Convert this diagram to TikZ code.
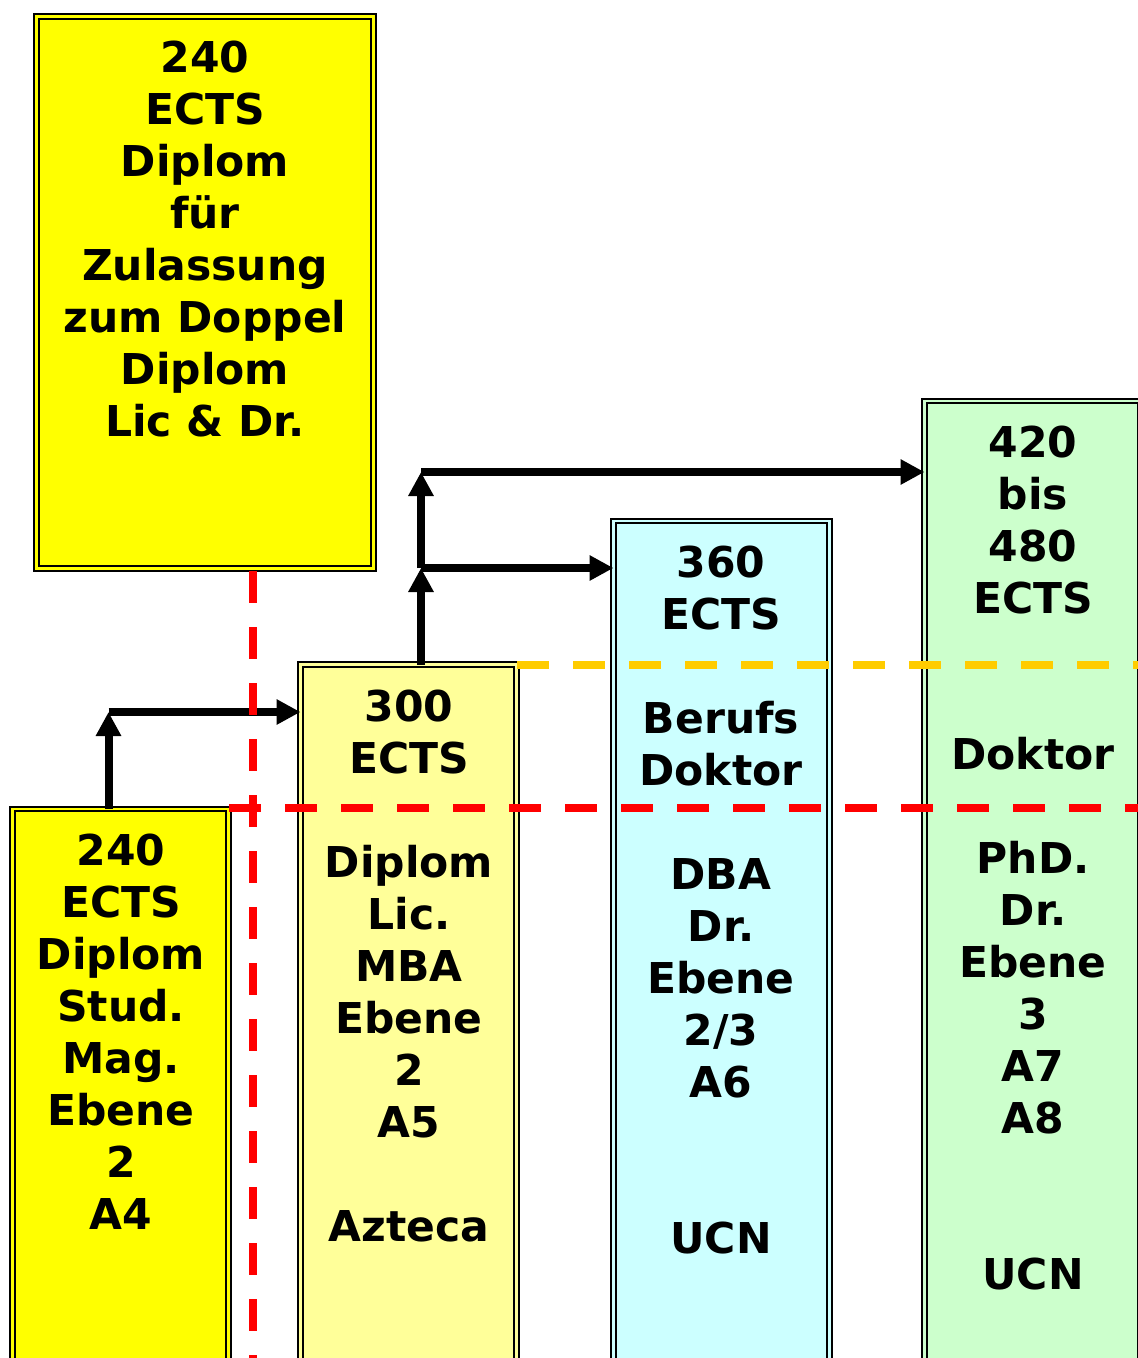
\documentclass[tikz,border=0pt]{standalone}
\usepackage{fontspec}
\setmainfont{DejaVu Sans}
\usetikzlibrary{arrows.meta}
\definecolor{cyel}{HTML}{FFFF00}
\definecolor{clyel}{HTML}{FFFF99}
\definecolor{ccyan}{HTML}{CCFFFF}
\definecolor{cgreen}{HTML}{CCFFCC}
\definecolor{cred}{HTML}{FF0000}
\definecolor{corange}{HTML}{FFCC00}
\begin{document}
\begin{tikzpicture}[x=1pt,y=-1pt,
  boxstyle/.style={draw=black, line width=2.2pt, double distance=2.3pt, inner sep=0pt, outer sep=0pt, anchor=north west, minimum width=216pt},
  label/.style={align=center, anchor=base, inner sep=0pt, font=\fontsize{42.5}{52}\selectfont\bfseries},
  arr/.style={line width=8pt, -{Triangle[length=24pt,width=24pt]}},
  reddash/.style={draw=cred, line width=8pt, dash pattern=on 32pt off 24pt},
  orangedash/.style={draw=corange, line width=8pt, dash pattern=on 32pt off 24pt}]
\useasboundingbox (0,0) rectangle (1138,1358);
\fill[white] (0,0) rectangle (1138,1358);
\clip (0,0) rectangle (1138,1358);
% boxes
\node[boxstyle, fill=cyel, double=cyel, minimum width=337pt, minimum height=552pt] (btop) at (36.5,16.5) {};
\node[boxstyle, fill=cyel, double=cyel, minimum height=620pt] (bl) at (12.5,809) {};
\node[boxstyle, fill=clyel, double=clyel, minimum height=760pt] (b300) at (300.5,664.5) {};
\node[boxstyle, fill=ccyan, double=ccyan, minimum height=900pt] (b360) at (613.5,521) {};
\node[boxstyle, fill=cgreen, double=cgreen, minimum height=1020pt] (b420) at (924.5,401) {};
% texts (base anchor = baseline of the last line)
\node[label] (ttop) at (205,436.5) {240\\ECTS\\Diplom\\für\\Zulassung\\zum Doppel\\Diplom\\Lic \& Dr.};
\node[label] (tbl) at (121,1229.5) {240\\ECTS\\Diplom\\Stud.\\Mag.\\Ebene\\2\\A4};
\node[label] (t300) at (409,1241.5) {300\\ECTS\\[52pt]Diplom\\Lic.\\MBA\\Ebene\\2\\A5\\[52pt]Azteca};
\node[label] (t360) at (721,1253.5) {360\\ECTS\\[52pt]Berufs\\Doktor\\[52pt]DBA\\Dr.\\Ebene\\2/3\\A6\\[104pt]UCN};
\node[label] (t420) at (1033,1289.5) {420\\bis\\480\\ECTS\\[104pt]Doktor\\[52pt]PhD.\\Dr.\\Ebene\\3\\A7\\A8\\[104pt]UCN};
% arrows
\coordinate (c1) at (108.5,712);
\coordinate (c2) at (421,568);
\coordinate (c3) at (421,472);
\draw[arr] (bl.north -| c1) -- (c1);
\draw[arr] (c1) -- (c1 -| b300.west);
\draw[arr] (b300.north -| c2) -- (c2);
\draw[arr] (c2) -- (c2 -| b360.west);
\draw[arr] (c2) -- (c3);
\draw[arr] (c3) -- (c3 -| b420.west);
% dashed lines
\coordinate (r1) at (253,571);
\coordinate (r2) at (253,1400);
\coordinate (h1) at (229,808);
\coordinate (h2) at (1160,808);
\coordinate (o1) at (517,665);
\coordinate (o2) at (1160,665);
\draw[orangedash] (o1) -- (o2);
\draw[reddash] (h1) -- (h2);
\draw[reddash] (r1) -- (r2);
\end{tikzpicture}
\end{document}
